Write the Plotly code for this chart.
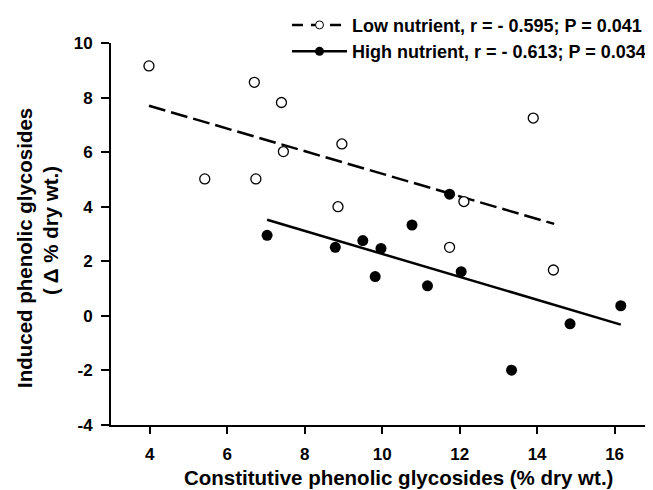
import plotly.graph_objects as go

# Low nutrient (open circles)
low_x = [3.98, 6.70, 7.40, 8.96, 7.45, 5.42, 6.74, 8.86, 12.11, 13.90, 11.74, 14.42]
low_y = [9.16, 8.56, 7.82, 6.30, 6.02, 5.02, 5.02, 4.00, 4.19, 7.25, 2.51, 1.68]
# High nutrient (filled circles)
high_x = [7.03, 11.74, 10.77, 9.50, 8.79, 9.97, 9.82, 11.17, 12.04, 13.34, 14.85, 16.16]
high_y = [2.95, 4.46, 3.33, 2.76, 2.51, 2.47, 1.44, 1.10, 1.62, -1.99, -0.29, 0.37]
# Regression lines (endpoints)
low_fit_x = [3.98, 14.44]
low_fit_y = [7.70, 3.37]
high_fit_x = [7.03, 16.16]
high_fit_y = [3.52, -0.32]

low_label = "Low nutrient, r = - 0.595; P = 0.041"
high_label = "High nutrient, r = - 0.613; P = 0.034"

x_ticks = [4, 6, 8, 10, 12, 14, 16]
y_ticks = [-4, -2, 0, 2, 4, 6, 8, 10]

FONT = "Liberation Sans, Arial, sans-serif"
DASH = "17px,6px"

fig = go.Figure()
fig.add_trace(go.Scatter(x=low_fit_x, y=low_fit_y, mode="lines",
                         line=dict(color="black", width=2.5, dash=DASH),
                         showlegend=False, hoverinfo="skip"))
fig.add_trace(go.Scatter(x=high_fit_x, y=high_fit_y, mode="lines",
                         line=dict(color="black", width=2.5),
                         showlegend=False, hoverinfo="skip"))
fig.add_trace(go.Scatter(x=low_x, y=low_y, mode="markers",
                         marker=dict(symbol="circle", size=10, color="white",
                                     line=dict(width=1.3, color="black")),
                         showlegend=False))
fig.add_trace(go.Scatter(x=high_x, y=high_y, mode="markers",
                         marker=dict(symbol="circle", size=11, color="black"),
                         showlegend=False))
# legend entries
fig.add_trace(go.Scatter(x=[None], y=[None], mode="lines+markers", name=low_label,
                         legendgroup="low",
                         line=dict(color="black", width=2.5, dash="11px,8px"),
                         marker=dict(symbol="circle", size=8, color="white",
                                     line=dict(width=1, color="black"))))
fig.add_trace(go.Scatter(x=[None], y=[None], mode="lines+markers", name=high_label,
                         legendgroup="high",
                         line=dict(color="black", width=2.5),
                         marker=dict(symbol="circle", size=9, color="black")))

fig.update_layout(
    width=637, height=482,
    margin=dict(l=103, r=0, t=35, b=65, autoexpand=False),
    paper_bgcolor="white", plot_bgcolor="white",
    font=dict(family=FONT, color="black"),
    legend=dict(x=0.3296, xanchor="left", y=1.095, yanchor="top",
                font=dict(size=18, family=FONT, color="black", weight="bold"),
                bgcolor="rgba(0,0,0,0)", tracegroupgap=0, itemwidth=55),
    xaxis=dict(range=[3, 16.785], tickvals=x_ticks, ticktext=[str(v) for v in x_ticks],
               showgrid=False, zeroline=False, showline=True, linecolor="black", linewidth=2,
               ticks="outside", ticklen=7, tickwidth=2, tickcolor="black",
               ticklabelstandoff=6,
               tickfont=dict(size=17, family=FONT, weight="bold")),
    yaxis=dict(range=[-4, 10], tickvals=y_ticks, ticktext=[str(v) for v in y_ticks],
               showgrid=False, zeroline=False, showline=True, linecolor="black", linewidth=2,
               ticks="outside", ticklen=8, tickwidth=2, tickcolor="black",
               ticklabelstandoff=5,
               tickfont=dict(size=17, family=FONT, weight="bold")),
)

fig.add_annotation(text="Constitutive phenolic glycosides (% dry wt.)", xref="paper", yref="paper",
                   x=0.5375, y=-0.1387, showarrow=False, xanchor="center", yanchor="middle",
                   font=dict(size=20.5, family=FONT, weight="bold"))
fig.add_annotation(text="Induced phenolic glycosides", xref="paper", yref="paper",
                   x=-0.161, y=0.4634, textangle=-90, showarrow=False, xanchor="center", yanchor="middle",
                   font=dict(size=20.5, family=FONT, weight="bold"))
fig.add_annotation(text="( Δ % dry wt.)", xref="paper", yref="paper",
                   x=-0.1124, y=0.5105, textangle=-90, showarrow=False, xanchor="center", yanchor="middle",
                   font=dict(size=20.5, family=FONT, weight="bold"))

fig.write_html("out.html")
